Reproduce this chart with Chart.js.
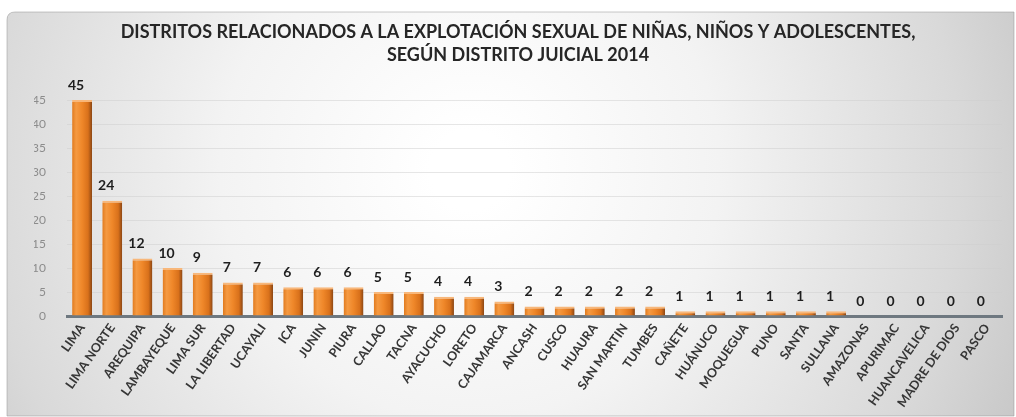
<!DOCTYPE html>
<html>
<head>
<meta charset="utf-8">
<script src="https://cdn.jsdelivr.net/npm/chart.js@4.4.1/dist/chart.umd.min.js"></script>
<style>
  html, body { margin: 0; padding: 0; background: #ffffff; }
  #wrap { width: 1016px; height: 417px; position: relative; }
</style>
</head>
<body>
<div id="wrap"><canvas id="chart" width="1016" height="417"></canvas></div>
<script>
// Distritos judiciales y casos registrados (2014)
const distritos = [
  'LIMA', 'LIMA NORTE', 'AREQUIPA', 'LAMBAYEQUE', 'LIMA SUR', 'LA LIBERTAD',
  'UCAYALI', 'ICA', 'JUNIN', 'PIURA', 'CALLAO', 'TACNA', 'AYACUCHO', 'LORETO',
  'CAJAMARCA', 'ANCASH', 'CUSCO', 'HUAURA', 'SAN MARTIN', 'TUMBES', 'CAÑETE',
  'HUÁNUCO', 'MOQUEGUA', 'PUNO', 'SANTA', 'SULLANA', 'AMAZONAS', 'APURIMAC',
  'HUANCAVELICA', 'MADRE DE DIOS', 'PASCO'
];
const casos = [
  45, 24, 12, 10, 9, 7,
  7, 6, 6, 6, 5, 5, 4, 4,
  3, 2, 2, 2, 2, 2, 1,
  1, 1, 1, 1, 1, 0, 0,
  0, 0, 0
];
const yTicks = [0, 5, 10, 15, 20, 25, 30, 35, 40, 45];
const tituloLineas = [
  'DISTRITOS RELACIONADOS A LA EXPLOTACIÓN SEXUAL DE NIÑAS, NIÑOS Y ADOLESCENTES,',
  'SEGÚN DISTRITO JUICIAL 2014'
];

const BAR_PCT = 0.66;
const FONT = 'Lato, "Open Sans", sans-serif';

// Framed panel with a soft light-centre gradient behind the chart
const panelPlugin = {
  id: 'panel',
  beforeDraw(chart) {
    const c = chart.ctx;
    const W = chart.width, H = chart.height;
    c.save();
    c.fillStyle = '#ffffff';
    c.fillRect(0, 0, W, H);
    const x0 = 7, y0 = 12, x1 = W - 2, y1 = H - 1, r = 8;
    c.beginPath();
    c.moveTo(x0 + r, y0);
    c.lineTo(x1, y0);
    c.lineTo(x1, y1);
    c.lineTo(x0, y1);
    c.lineTo(x0, y0 + r);
    c.quadraticCurveTo(x0, y0, x0 + r, y0);
    c.closePath();
    const g = c.createRadialGradient(470, 170, 40, 470, 170, 640);
    g.addColorStop(0, '#ffffff');
    g.addColorStop(0.35, '#f3f3f3');
    g.addColorStop(0.75, '#d9d9d9');
    g.addColorStop(1, '#c2c2c2');
    c.fillStyle = g;
    c.fill();
    c.strokeStyle = 'rgba(150,150,150,0.5)';
    c.lineWidth = 1;
    c.stroke();
    c.restore();
  }
};

// Value labels above each bar
const valueLabels = {
  id: 'valueLabels',
  afterDatasetsDraw(chart) {
    const c = chart.ctx;
    const meta = chart.getDatasetMeta(0);
    c.save();
    c.font = 'bold 14px ' + FONT;
    c.fillStyle = '#1e1e1e';
    c.textAlign = 'center';
    c.textBaseline = 'middle';
    meta.data.forEach((el, i) => {
      c.fillText(String(casos[i]), el.x - 6, el.y - 15);
    });
    c.restore();
  }
};

function barFill(ctx) {
  const chart = ctx.chart;
  const xs = chart.scales.x;
  if (!xs || !chart.chartArea) return '#ee8a2c';
  const cx = xs.getPixelForValue(ctx.dataIndex);
  const half = (xs.width / distritos.length) * BAR_PCT / 2;
  const g = chart.ctx.createLinearGradient(cx - half, 0, cx + half, 0);
  g.addColorStop(0, '#e07a1e');
  g.addColorStop(0.2, '#f59a42');
  g.addColorStop(0.5, '#ef8729');
  g.addColorStop(0.8, '#d9711b');
  g.addColorStop(1, '#8a4614');
  return g;
}

new Chart(document.getElementById('chart'), {
  type: 'bar',
  data: {
    labels: distritos,
    datasets: [{
      data: casos,
      backgroundColor: barFill,
      borderColor: '#f8b77a',
      borderWidth: { top: 2, left: 0, right: 0, bottom: 0 },
      borderSkipped: 'bottom',
      categoryPercentage: 1,
      barPercentage: BAR_PCT
    }]
  },
  options: {
    responsive: false,
    animation: false,
    devicePixelRatio: 1,
    layout: { padding: { top: 21, left: 34, right: 14, bottom: 0 } },
    plugins: {
      legend: { display: false },
      tooltip: { enabled: false },
      title: {
        display: true,
        text: tituloLineas,
        color: '#262626',
        font: { family: FONT, size: 18, weight: 'bold', lineHeight: 1.25 },
        padding: { top: 0, bottom: 34 }
      }
    },
    scales: {
      x: {
        grid: { display: false, drawTicks: false },
        border: { display: true, color: '#6e7880', width: 3 },
        ticks: {
          autoSkip: false,
          minRotation: 55,
          maxRotation: 55,
          padding: 5,
          color: '#363636',
          font: { family: FONT, size: 12.5, weight: 'bold' }
        },
        afterFit(scale) { scale.height = 417 - 316; }
      },
      y: {
        min: 0,
        max: 45,
        afterBuildTicks(scale) { scale.ticks = yTicks.map(v => ({ value: v })); },
        grid: { color: 'rgba(205,205,205,0.5)', lineWidth: 1, drawTicks: false },
        border: { display: false },
        ticks: {
          padding: 21,
          color: '#8c8c8c',
          font: { family: FONT, size: 12 }
        },
        afterFit(scale) { scale.width = 33; }
      }
    }
  },
  plugins: [panelPlugin, valueLabels]
});
</script>
</body>
</html>
